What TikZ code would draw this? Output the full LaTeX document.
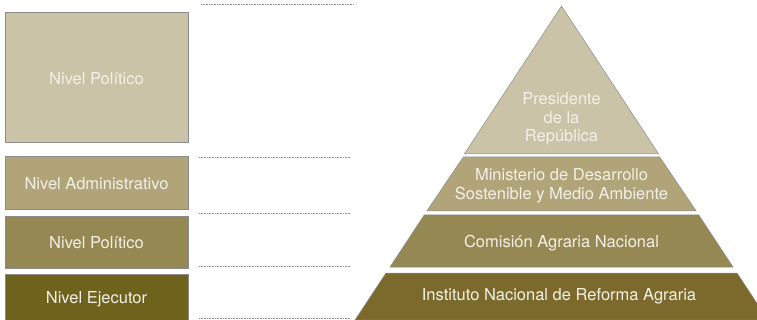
\documentclass[tikz,border=0pt]{standalone}
\usepackage{fontspec}
\setmainfont{TeX Gyre Heros}
\definecolor{nivelA}{HTML}{CBC3A7}
\definecolor{nivelB}{HTML}{B1A479}
\definecolor{nivelC}{HTML}{968852}
\definecolor{nivelD}{HTML}{6F621D}
\definecolor{bandaD}{HTML}{7B6A2C}
\definecolor{rotulo}{HTML}{F3F0E8}
\definecolor{borde}{HTML}{8C8C8C}
\tikzset{
  nivel/.style={draw=borde, line width=0.7pt, minimum width=183pt, inner sep=0pt},
  rotulonivel/.style={text=rotulo, inner sep=0pt, font=\fontsize{16.5}{18.5}\selectfont},
  rotulobanda/.style={text=rotulo, align=center, inner sep=0pt,
    font=\fontsize{16.5}{18.5}\selectfont},
  banda/.style={draw=borde, line width=0.5pt},
  separador/.style={draw=borde, line width=0.6pt, dash pattern=on 0.8pt off 0.8pt}
}
\begin{document}
\begin{tikzpicture}[x=1pt, y=-1pt]
\useasboundingbox (0,0) rectangle (757,320);
\clip (0,0) rectangle (757,320);
% niveles
\node[nivel, fill=nivelA, minimum height=130pt] (politico) at (96.5, 77) {};
\node[rotulonivel] (politico-txt) at (96.5, 78.5) {Nivel Político};
\node[nivel, fill=nivelB, minimum height=53pt] (admin) at (96.5, 182.5) {};
\node[rotulonivel] (admin-txt) at (96.5, 184) {Nivel Administrativo};
\node[nivel, fill=nivelC, minimum height=52pt] (politicob) at (96.5, 242) {};
\node[rotulonivel] (politicob-txt) at (96.5, 243) {Nivel Político};
\node[nivel, fill=nivelD, minimum height=48pt] (ejecutor) at (96.5, 298) {};
\node[rotulonivel] (ejecutor-txt) at (96.5, 299.5) {Nivel Ejecutor};
% separadores
\draw[separador] (201, 4) -- (354, 4);
\draw[separador] (199, 157) -- (351, 157);
\draw[separador] (199, 213) -- (351, 213);
\draw[separador] (199, 266) -- (351, 266);
\draw[separador] (199, 318) -- (351, 318);
% piramide
\fill[nivelA, banda] (561.5, 6) -- (658.7, 154) -- (464.3, 154) -- cycle;
\node[rotulobanda] (presidente) at (561.5, 119) {Presidente\\de la\\República};
\fill[nivelB, banda] (463.3, 157) -- (659.7, 157) -- (696.2, 211) -- (426.8, 211) -- cycle;
\node[rotulobanda] (ministerio) at (561.5, 186) {Ministerio de Desarrollo\\Sostenible y Medio Ambiente};
\fill[nivelC, banda] (424.2, 215) -- (698.8, 215) -- (733, 267) -- (390, 267) -- cycle;
\node[rotulobanda] (comision) at (561.5, 243.5) {Comisión Agraria Nacional};
\fill[bandaD, banda] (386, 273) -- (737, 273) -- (768, 320) -- (355, 320) -- cycle;
\node[rotulobanda] (instituto) at (559, 296) {Instituto Nacional de Reforma Agraria};
\end{tikzpicture}
\end{document}
